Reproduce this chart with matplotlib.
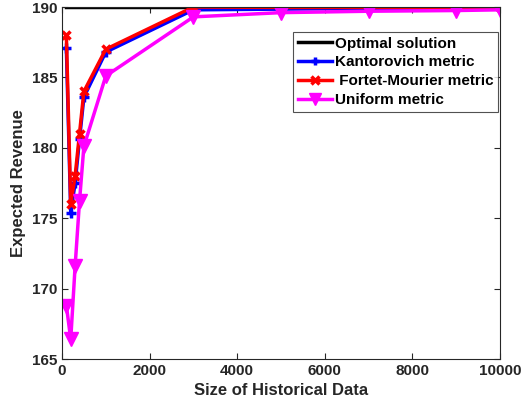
import matplotlib
matplotlib.use('Agg')
import matplotlib.pyplot as plt

plt.rcParams['font.family'] = ['Liberation Sans', 'DejaVu Sans']
plt.rcParams['font.weight'] = 'bold'

# sample sizes and expected revenue for each metric
sizes = [100, 200, 300, 400, 500, 1000, 3000, 5000, 7000, 9000, 10000]
optimal = [190] * len(sizes)
kantorovich = [187.1, 175.4, 177.5, 180.6, 183.6, 186.8, 189.8, 189.85, 189.9, 189.9, 189.9]
fortet = [188.0, 176.0, 178.0, 181.0, 184.0, 187.0, 190.0, 189.97, 189.97, 189.98, 189.98]
uniform = [168.8, 166.4, 171.6, 176.2, 180.1, 185.1, 189.3, 189.6, 189.7, 189.75, 189.8]

fig = plt.figure(figsize=(5.32, 4.12), dpi=100)
ax = fig.add_axes([0.1165, 0.1286, 0.8235, 0.8544])

ax.plot(sizes, optimal, color='black', lw=2.5, label='Optimal solution')
ax.plot(sizes, kantorovich, color='blue', lw=2.5, marker='+', ms=7, mew=2.5,
        label='Kantorovich metric')
ax.plot(sizes, fortet, color='red', lw=2.5, marker='x', ms=6, mew=2.5,
        label=' Fortet-Mourier metric')
ax.plot(sizes, uniform, color='magenta', lw=2.5, marker='v', ms=10,
        label='Uniform metric')

ax.set_xlim(0, 10000)
ax.set_ylim(165, 190)
ax.set_xticks([0, 2000, 4000, 6000, 8000, 10000])
ax.set_yticks([165, 170, 175, 180, 185, 190])
ax.tick_params(direction='in', top=True, right=True, labelsize=11,
               colors='#262626', length=4)
for s in ax.spines.values():
    s.set_color('#262626')
    s.set_linewidth(0.8)

ax.set_xlabel('Size of Historical Data', fontsize=12, fontweight='bold', color='#262626')
ax.set_ylabel('Expected Revenue', fontsize=12, fontweight='bold', color='#262626')

leg = ax.legend(loc='upper right', bbox_to_anchor=(0.995, 0.929), fontsize=11,
                frameon=True, fancybox=False, edgecolor='#262626',
                handlelength=2.2, handletextpad=0.2, borderpad=0.3,
                labelspacing=0.32, borderaxespad=0, markerscale=0.85)
leg.get_frame().set_linewidth(0.8)

fig.savefig('out.png', dpi=100)
